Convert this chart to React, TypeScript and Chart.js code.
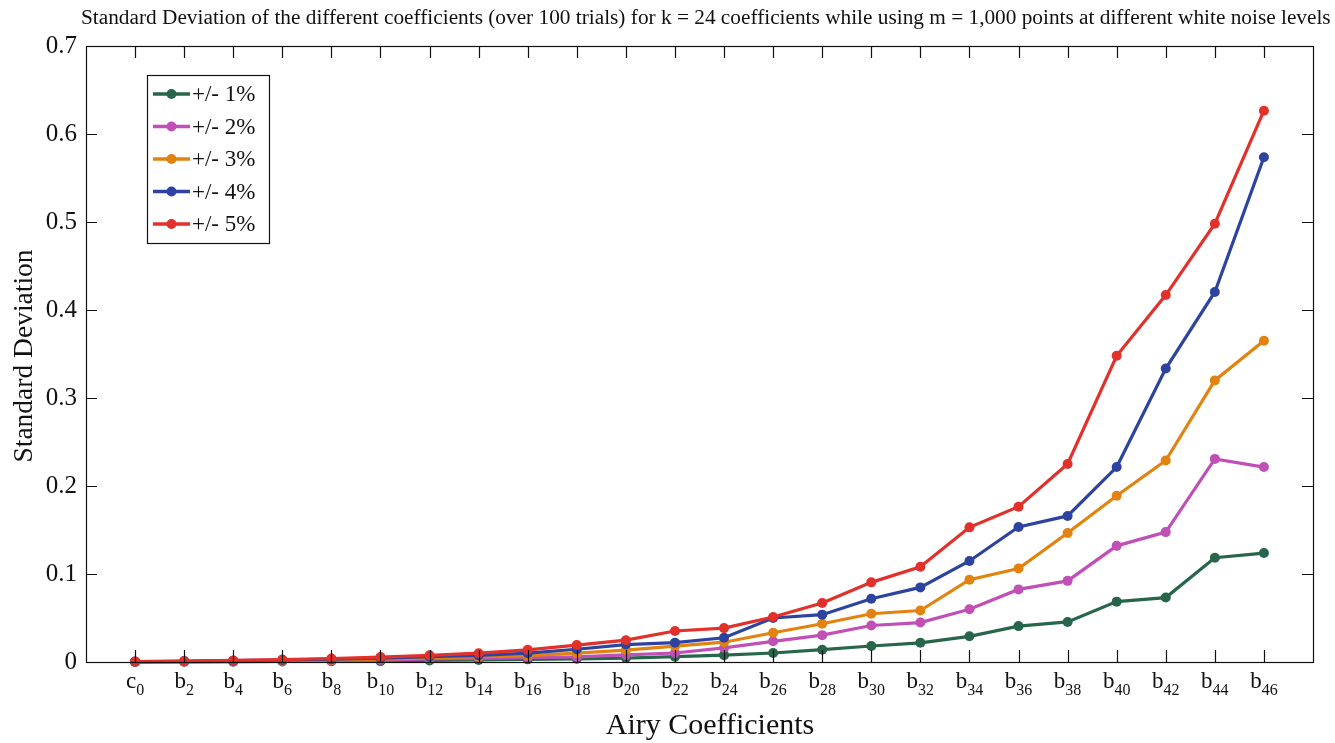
import React, { useEffect, useRef } from "react";
import { Chart, registerables } from "chart.js";

Chart.register(...registerables);

const coeffLetters = ["c", "b", "b", "b", "b", "b", "b", "b", "b", "b", "b", "b", "b", "b", "b", "b", "b", "b", "b", "b", "b", "b", "b", "b"];
const coeffIndices = ["0", "2", "4", "6", "8", "10", "12", "14", "16", "18", "20", "22", "24", "26", "28", "30", "32", "34", "36", "38", "40", "42", "44", "46"];

const seriesLabels = ["+/- 1%", "+/- 2%", "+/- 3%", "+/- 4%", "+/- 5%"];
const seriesColors = ["#27664a", "#c04fb6", "#e2820f", "#2d43a0", "#e2302a"];

const noise1 = [0.0001, 0.0002, 0.0004, 0.0006, 0.0008, 0.001, 0.0018, 0.0024, 0.003, 0.0036, 0.0045, 0.006, 0.0078, 0.0102, 0.014, 0.0182, 0.0218, 0.0292, 0.0408, 0.0455, 0.0686, 0.0732, 0.1185, 0.1238];
const noise2 = [0.0002, 0.0004, 0.0007, 0.0011, 0.0016, 0.0022, 0.0034, 0.0042, 0.005, 0.0058, 0.008, 0.0102, 0.016, 0.0235, 0.0305, 0.0415, 0.0448, 0.06, 0.0825, 0.0922, 0.132, 0.1476, 0.2308, 0.2215];
const noise3 = [0.0003, 0.0006, 0.0011, 0.0017, 0.0024, 0.0033, 0.0048, 0.006, 0.0072, 0.01, 0.0135, 0.018, 0.0225, 0.0333, 0.0435, 0.0548, 0.0585, 0.0935, 0.1062, 0.1465, 0.189, 0.229, 0.32, 0.365];
const noise4 = [0.0004, 0.0008, 0.0015, 0.0023, 0.0032, 0.0044, 0.006, 0.0074, 0.01, 0.0145, 0.0198, 0.022, 0.0275, 0.05, 0.0538, 0.0718, 0.0848, 0.1148, 0.1535, 0.166, 0.2215, 0.3335, 0.4205, 0.5735];
const noise5 = [0.0005, 0.001, 0.0018, 0.0028, 0.004, 0.0056, 0.0076, 0.01, 0.0138, 0.0192, 0.0248, 0.0352, 0.0385, 0.0512, 0.067, 0.0905, 0.1082, 0.153, 0.1765, 0.225, 0.348, 0.417, 0.498, 0.6265];

const yTickValues = [0, 0.1, 0.2, 0.3, 0.4, 0.5, 0.6, 0.7];

const titleText = "Standard Deviation of the different coefficients (over 100 trials) for k = 24 coefficients while using m = 1,000 points at different white noise levels";
const xTitle = "Airy Coefficients";
const yTitle = "Standard Deviation";

const FONT = '"Liberation Serif", "Times New Roman", serif';

const decorPlugin = {
  id: "decor",
  afterDraw(chart: any) {
    const ctx = chart.ctx;
    const area = chart.chartArea;
    const xs = chart.scales.x;
    const ys = chart.scales.y;
    ctx.save();
    // frame
    ctx.strokeStyle = "#111";
    ctx.lineWidth = 1.2;
    ctx.strokeRect(Math.round(area.left) + 0.5, Math.round(area.top) + 0.5, Math.round(area.right - area.left), Math.round(area.bottom - area.top));
    // ticks (inward)
    const tl = 12;
    ctx.beginPath();
    coeffIndices.forEach((_, i) => {
      const px = Math.round(xs.getPixelForValue(i)) + 0.5;
      ctx.moveTo(px, area.bottom);
      ctx.lineTo(px, area.bottom - tl);
      ctx.moveTo(px, area.top);
      ctx.lineTo(px, area.top + tl);
    });
    yTickValues.forEach((v) => {
      const py = Math.round(ys.getPixelForValue(v)) + 0.5;
      ctx.moveTo(area.left, py);
      ctx.lineTo(area.left + 11, py);
      ctx.moveTo(area.right, py);
      ctx.lineTo(area.right - 11, py);
    });
    ctx.stroke();

    // x labels with subscripts
    ctx.fillStyle = "#111";
    ctx.textBaseline = "alphabetic";
    ctx.textAlign = "left";
    coeffIndices.forEach((sub, i) => {
      const px = xs.getPixelForValue(i);
      ctx.font = `23px ${FONT}`;
      const w1 = ctx.measureText(coeffLetters[i]).width;
      ctx.font = `16px ${FONT}`;
      const w2 = ctx.measureText(sub).width;
      const start = px - (w1 + w2) / 2;
      ctx.font = `23px ${FONT}`;
      ctx.fillText(coeffLetters[i], start, 688);
      ctx.font = `16px ${FONT}`;
      ctx.fillText(sub, start + w1, 695);
    });

    // axis titles
    ctx.font = `30px ${FONT}`;
    ctx.textAlign = "center";
    ctx.fillText(xTitle, 710, 734);
    ctx.font = `27.5px ${FONT}`;
    ctx.save();
    ctx.translate(32, 356);
    ctx.rotate(-Math.PI / 2);
    ctx.fillText(yTitle, 0, 0);
    ctx.restore();

    // chart title
    ctx.font = `21.3px ${FONT}`;
    ctx.textAlign = "left";
    ctx.fillText(titleText, 81, 24);

    // legend
    const lx = 147, ly = 75, lw = 122, lh = 168;
    ctx.fillStyle = "#fff";
    ctx.fillRect(lx, ly, lw, lh);
    ctx.strokeStyle = "#111";
    ctx.lineWidth = 1.2;
    ctx.strokeRect(lx + 0.5, ly + 0.5, lw, lh);
    chart.data.datasets.forEach((ds: any, i: number) => {
      const cy = 94 + i * 32.5;
      ctx.strokeStyle = ds.borderColor;
      ctx.lineWidth = 3.5;
      ctx.beginPath();
      ctx.moveTo(153, cy);
      ctx.lineTo(190, cy);
      ctx.stroke();
      ctx.fillStyle = ds.borderColor;
      ctx.beginPath();
      ctx.arc(171.5, cy, 5, 0, Math.PI * 2);
      ctx.fill();
      ctx.fillStyle = "#111";
      ctx.font = `23px ${FONT}`;
      ctx.textAlign = "left";
      ctx.textBaseline = "middle";
      ctx.fillText(ds.label, 192, cy + 1);
    });
    ctx.restore();
  },
};

export default function App() {
  const canvasRef = useRef<HTMLCanvasElement | null>(null);

  useEffect(() => {
    const canvas = canvasRef.current;
    if (!canvas) return;
    const allSeries = [noise1, noise2, noise3, noise4, noise5];
    const datasets = allSeries.map((vals, s) => ({
      label: seriesLabels[s],
      data: vals.map((v, i) => ({ x: i, y: v })),
      borderColor: seriesColors[s],
      backgroundColor: seriesColors[s],
      borderWidth: 3.2,
      pointRadius: 5,
      pointHoverRadius: 5,
      pointBorderWidth: 0,
      tension: 0,
      clip: false as any,
      order: 4 - s,
    }));
    const chart = new Chart(canvas, {
      type: "line",
      data: { datasets },
      options: {
        animation: false,
        responsive: false,
        maintainAspectRatio: false,
        layout: { padding: { top: 46, right: 22, left: 0, bottom: 0 } },
        plugins: {
          legend: { display: false },
          title: { display: false },
          tooltip: { enabled: false },
        },
        scales: {
          x: {
            type: "linear",
            min: -1,
            max: 24,
            grid: { display: false },
            border: { display: false },
            ticks: { display: false },
            afterFit: (scale: any) => {
              scale.height = 81;
            },
          },
          y: {
            type: "linear",
            min: 0,
            max: 0.7,
            grid: { display: false, drawTicks: false },
            border: { display: false },
            afterBuildTicks: (scale: any) => {
              scale.ticks = yTickValues.map((v) => ({ value: v }));
            },
            afterFit: (scale: any) => {
              scale.width = 86;
            },
            ticks: {
              color: "#111",
              padding: 9,
              font: { family: FONT, size: 25 },
              callback: (v: any) => (Number(v) === 0 ? "0" : Number(v).toFixed(1)),
            },
          },
        },
      },
      plugins: [decorPlugin],
    });
    return () => chart.destroy();
  }, []);

  return (
    <div style={{ position: "fixed", left: 0, top: 0, width: 1335, height: 743, background: "#fff" }}>
      <canvas ref={canvasRef} width={1335} height={743} style={{ display: "block", width: 1335, height: 743 }} />
    </div>
  );
}
